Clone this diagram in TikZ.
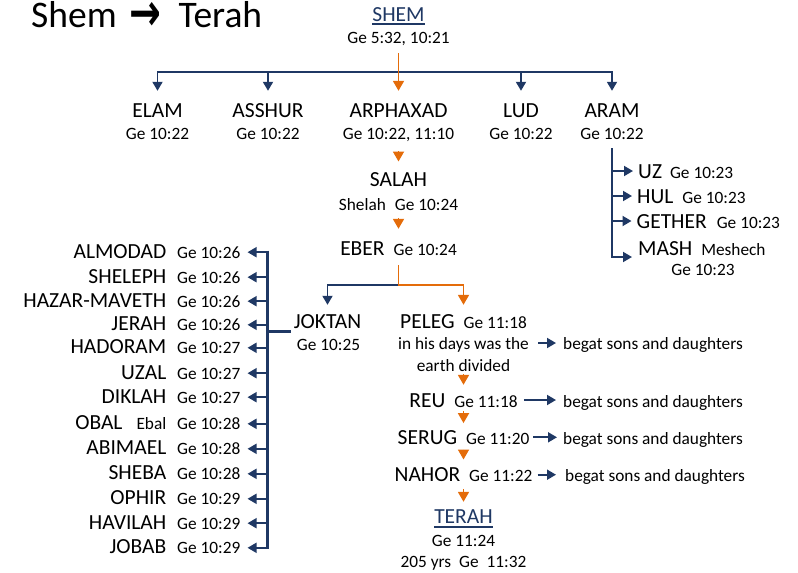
\documentclass[tikz,border=0pt]{standalone}
\usepackage{fontspec}
\setmainfont{Carlito}
\newfontfamily\arrowfont{DejaVu Sans}
\usetikzlibrary{arrows.meta}
\definecolor{navy}{RGB}{31,56,100}
\definecolor{orng}{RGB}{228,108,10}
\newcommand\namef{\fontsize{21.5}{24}\selectfont}
\newcommand\reff{\fontsize{17.3}{20}\selectfont}
\begin{document}
\begin{tikzpicture}[x=1pt,y=-1pt,
  nm/.style={font=\namef, inner sep=0pt, text height=14pt, text depth=0pt, anchor=base},
  rf/.style={font=\reff, inner sep=0pt, text height=12pt, text depth=0pt, anchor=base},
  nline/.style={draw=navy, line width=1.8pt},
  oline/.style={draw=orng, line width=1.8pt},
  ntip/.style={-{Triangle[width=10pt,length=9pt]}},
  otip/.style={-{Triangle[width=11pt,length=10pt]}},
  bkline/.style={draw=navy, line width=3pt}]
\useasboundingbox (0,0) rectangle (798,573);

% title
\node[font=\fontsize{37.5}{40}\selectfont, inner sep=0pt, text height=24pt, text depth=0pt, anchor=base west] (title) at (31,27)
  {Shem\hspace{13pt}{\arrowfont\bfseries\fontsize{40}{40}\selectfont\raisebox{-3.5pt}{\scalebox{0.95}[1.3]{→}}}\hspace{17pt}Terah};

% Shem
\node[nm, text=navy] (shem) at (398.5,21) {SHEM};
\draw[navy, line width=1.3pt] ([yshift=-3pt]shem.base west) -- ([yshift=-3pt]shem.base east);
\node[rf] (shemref) at (398.5,43) {Ge 5:32, 10:21};

% sons of Shem
\node[nm] (elam) at (157.5,117) {ELAM};
\node[rf] (elamref) at (157.5,139) {Ge 10:22};
\node[nm] (asshur) at (268,117) {ASSHUR};
\node[rf] (asshurref) at (268,139) {Ge 10:22};
\node[nm] (arphaxad) at (398.5,117) {ARPHAXAD};
\node[rf] (arphref) at (398.5,139) {Ge 10:22, 11:10};
\node[nm] (lud) at (521,117) {LUD};
\node[rf] (ludref) at (521,139) {Ge 10:22};
\node[nm] (aram) at (612,117) {ARAM};
\node[rf] (aramref) at (612,139) {Ge 10:22};

\coordinate (hub) at (398.5,72);
\foreach \c in {elam,asshur,lud,aram}
  \draw[nline, ntip, shorten >=12pt] (hub) -| (\c.north);
\draw[oline, otip, shorten <=10pt, shorten >=12pt] (shemref.south) -- (shemref.south |- arphaxad.north);

% Salah, Eber
\node[nm] (salah) at (398.5,186.7) {SALAH};
\node[rf] (salahref) at (398.5,210) {Shelah\hspace{9pt}Ge 10:24};
\draw[oline, otip, shorten <=12pt, shorten >=11pt] (arphref.south) -- (arphref.south |- salah.north);
\node[nm] (eber) at (398.5,255) {EBER\hspace{9pt}{\reff Ge 10:24}};
\draw[oline, otip, shorten <=8pt, shorten >=12pt] (salahref.south) -- (salahref.south |- eber.north);

% Joktan and Peleg
\node[nm] (joktan) at (327.5,328) {JOKTAN};
\node[rf] (joktanref) at (328.5,350.6) {Ge 10:25};
\node[nm] (peleg) at (463.5,328) {PELEG\hspace{9pt}{\reff Ge 11:18}};
\node[rf] (note1) at (463.5,349) {in his days was the};
\node[rf] (note2) at (463.5,371) {earth divided};

\coordinate (ebfork) at (398.5,285);
\draw[nline, ntip, shorten >=9pt] (ebfork) -| (joktan.north);
\draw[oline, otip, shorten <=10pt, shorten >=9pt] (eber.south) -- (ebfork) -| (peleg.north);

% sons of Joktan
\coordinate (bktop) at (267,250.5);
\coordinate (bkbot) at (267,548.5);
\draw[bkline] (bktop) -- (bkbot);
\draw[bkline, shorten <=3pt] ([yshift=-10pt]joktan.west) -- ([yshift=-10pt]joktan.west -| bktop);
\foreach \nmx/\y/\v [count=\i] in {ALMODAD/251.7/26, SHELEPH/276.7/26, HAZAR-MAVETH/300.7/26,
    JERAH/324.3/26, HADORAM/347.3/27, UZAL/372.7/27, DIKLAH/396.7/27,
    {OBAL\hspace{14pt}{\reff Ebal}}/423.3/28, ABIMAEL/448.3/28, SHEBA/473.3/28,
    OPHIR/498.3/29, HAVILAH/522.7/29, JOBAB/547.3/29} {
  \node[nm, anchor=base east] (s\i) at (166.5,\y+6.5) {\nmx};
  \node[rf, anchor=base west] (sr\i) at (177,\y+6.5) {Ge 10:\v};
  \draw[nline, ntip, shorten >=7pt] (bktop |- sr\i.east) -- (sr\i.east);
}

% sons of Aram
\node[nm, anchor=base west] (uz) at (638,178) {UZ\hspace{8pt}{\reff Ge 10:23}};
\node[nm, anchor=base west] (hul) at (637,203) {HUL\hspace{9pt}{\reff Ge 10:23}};
\node[nm, anchor=base west] (gether) at (636.5,228) {GETHER\hspace{10pt}{\reff Ge 10:23}};
\node[nm, anchor=base west] (mash) at (638,255) {MASH\hspace{9pt}{\reff Meshech}};
\node[rf] (mashref) at (703,275) {Ge 10:23};
\coordinate (aramelbow) at (612,257);
\draw[nline, ntip] ([yshift=-9pt]aramref.south) -- (aramelbow) -- ([xshift=-6pt]mash.west |- aramelbow);
\foreach \c in {uz,hul,gether}
  \draw[nline, ntip, shorten >=5pt] (aramelbow |- \c.west) -- (\c.west);

% line of Peleg
\node[nm] (reu) at (463.5,407) {REU\hspace{9pt}{\reff Ge 11:18}};
\node[nm] (serug) at (463.5,444.3) {SERUG\hspace{9pt}{\reff Ge 11:20}};
\node[nm] (nahor) at (463.5,481.7) {NAHOR\hspace{9pt}{\reff Ge 11:22}};
\node[nm, text=navy] (terah) at (463.5,523) {TERAH};
\draw[navy, line width=1.3pt] ([yshift=-4pt]terah.base west) -- ([yshift=-4pt]terah.base east);
\node[rf] (terahref) at (463.5,546) {Ge 11:24};
\node[rf] (terahyrs) at (463.5,567) {205 yrs\hspace{8pt}Ge\hspace{8pt}11:32};

\draw[oline, otip, shorten <=3pt, shorten >=8pt] (note2.south) -- (note2.south |- reu.north);
\draw[oline, otip, shorten <=4pt, shorten >=7pt] (reu.south) -- (reu.south |- serug.north);
\draw[oline, otip, shorten <=5pt, shorten >=8pt] (serug.south) -- (serug.south |- nahor.north);
\draw[oline, otip, shorten <=7pt, shorten >=7pt] (nahor.south) -- (nahor.south |- terah.north);

% begat
\node[rf, anchor=base west] (beg1) at (563,349) {begat sons and daughters};
\node[rf, anchor=base west] (beg2) at (563,407) {begat sons and daughters};
\node[rf, anchor=base west] (beg3) at (563,444.3) {begat sons and daughters};
\node[rf, anchor=base west] (beg4) at (565,481.7) {begat sons and daughters};
\draw[nline, ntip, shorten <=9pt, shorten >=7pt] (note1.east) -- (note1.east -| beg1.west);
\draw[nline, ntip, shorten <=6pt, shorten >=7pt] (reu.east) -- (reu.east -| beg2.west);
\draw[nline, ntip, shorten <=4pt, shorten >=6pt] (serug.east) -- (serug.east -| beg3.west);
\draw[nline, ntip, shorten <=5pt, shorten >=9pt] (nahor.east) -- (nahor.east -| beg4.west);
\end{tikzpicture}
\end{document}
